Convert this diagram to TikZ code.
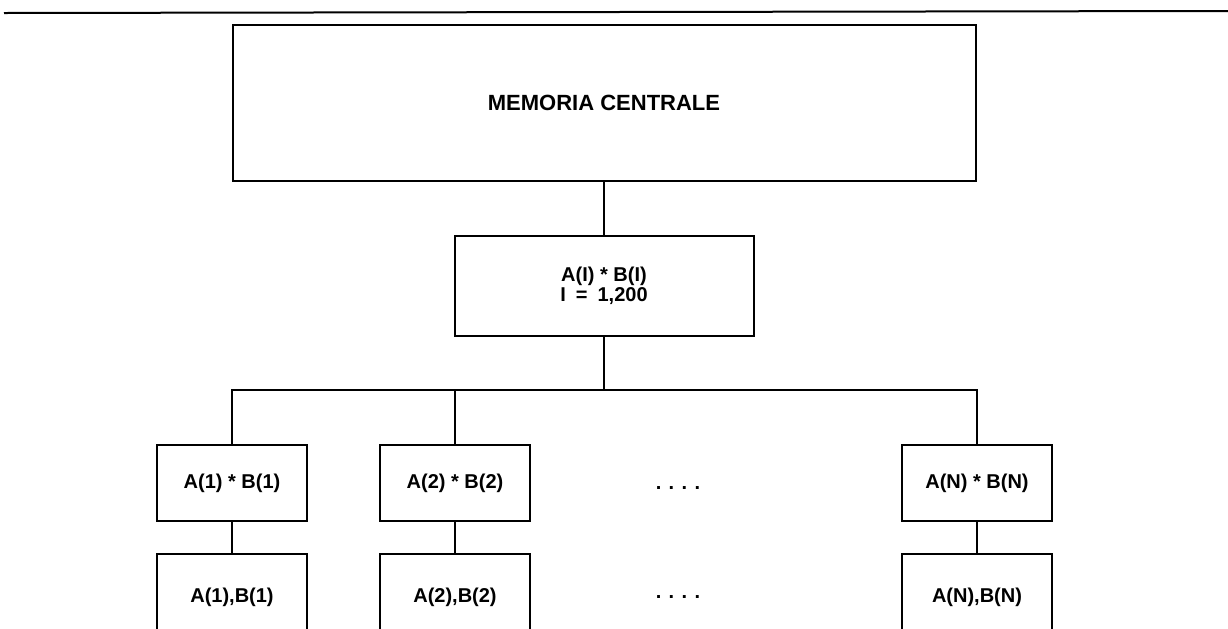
\documentclass[tikz,border=0pt]{standalone}
\usepackage{fontspec}
\setmainfont{Liberation Sans}
\usetikzlibrary{positioning}

\begin{document}
\begin{tikzpicture}[x=0.5pt,y=-0.5pt,
  blk/.style={draw, line width=1pt, inner sep=0pt, align=center, font=\fontsize{10}{9}\selectfont\bfseries},
  unit/.style={blk, minimum width=75pt, minimum height=38pt},
  wire/.style={line width=1pt}]
  \clip (0,0) rectangle (1228,628);

  % Rule at the top
  \draw[wire] (4,13) -- (1228,11);

  % Central memory
  \node[blk, minimum width=371.5pt, minimum height=78pt, font=\fontsize{11}{13}\selectfont\bfseries] (mem) at (604,103) {MEMORIA CENTRALE};

  % Vector operation
  \node[blk, minimum width=149.5pt, minimum height=50pt] (mult) at (604,286) {A(I) * B(I)\\I\enspace=\enspace1,200};
  \coordinate (bus) at (604,390);

  % Processing units
  \node[unit] (p1) at (232,483) {A(1) * B(1)};
  \node[unit] (p2) at (455,483) {A(2) * B(2)};
  \node[unit] (pN) at (977,483) {A(N) * B(N)};
  \node[font=\fontsize{10}{12}\selectfont\bfseries] (dots1) at (678,488) {. . . .};

  % Operands
  \node[unit, minimum height=43pt] (lo1) at (232,597) {A(1),B(1)};
  \node[unit, minimum height=43pt] (lo2) at (455,597) {A(2),B(2)};
  \node[unit, minimum height=43pt] (loN) at (977,597) {A(N),B(N)};
  \node[font=\fontsize{10}{12}\selectfont\bfseries] (dots2) at (678,597) {. . . .};

  % Connections
  \draw[wire] (mem) -- (mult);
  \draw[wire] (mult) -- (bus);
  \draw[wire] (p1) |- (bus) -| (pN);
  \draw[wire] (p2) -- (p2 |- bus);
  \foreach \i in {1,2,N}
    \draw[wire] (p\i) -- (lo\i);
\end{tikzpicture}
\end{document}
